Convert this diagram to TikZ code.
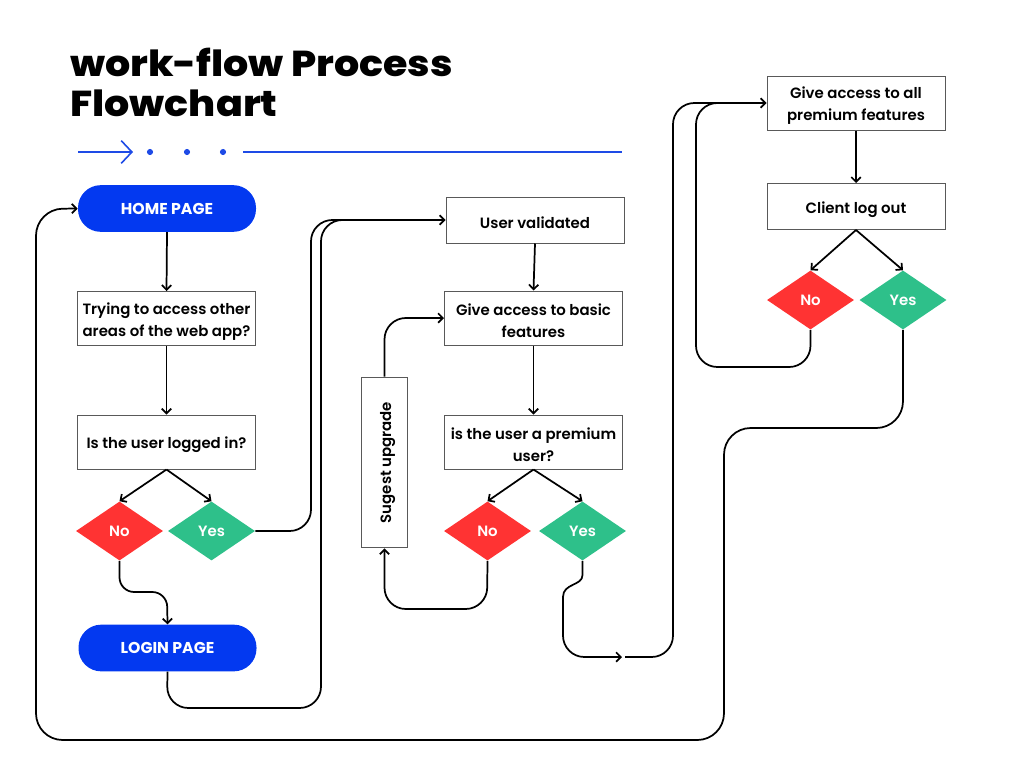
\documentclass[tikz,border=0pt]{standalone}
\usepackage{fontspec}
\setmainfont{Poppins}
\newfontfamily\semib{Poppins SemiBold}
\newfontfamily\titlef{Poppins ExtraBold}[FakeStretch=1.1]
\usetikzlibrary{arrows.meta,shapes.geometric}
\definecolor{cblue}{RGB}{3,57,240}
\definecolor{dblue}{RGB}{30,75,230}
\definecolor{cred}{RGB}{255,51,51}
\definecolor{cgreen}{RGB}{46,192,138}
\newcommand{\topst}{\rule{0pt}{13pt}}
\begin{document}
\begin{tikzpicture}[x=0.75pt,y=-0.75pt,
  box/.style={draw=black!65, line width=0.75pt, fill=white, minimum width=133.5pt, minimum height=40.5pt, inner sep=2pt, align=center, font=\semib\fontsize{11.2}{16.5}\selectfont},
  sbox/.style={box, minimum height=34.5pt},
  pill/.style={fill=cblue, rounded corners=17pt, minimum width=133.5pt, minimum height=35pt, text=white, font=\bfseries\fontsize{11.8}{13}\selectfont},
  dia/.style={diamond, minimum width=65.25pt, minimum height=44.25pt, inner sep=0pt, text=white, font=\semib\fontsize{11.2}{12}\selectfont},
  nod/.style={dia, fill=cred},
  yesd/.style={dia, fill=cgreen},
  line/.style={line width=1.3pt, black},
  conn/.style={line, -{Straight Barb[length=3.5pt,width=7pt,line width=1.3pt]}},
  rc/.style={rounded corners=16pt}
]
\useasboundingbox (0,0) rectangle (1024,768);
% title
\node[anchor=base west, inner sep=0pt, font=\titlef\fontsize{27}{30}\selectfont] (t1) at (70,76) {work-flow Process};
\node[anchor=base west, inner sep=0pt, font=\titlef\fontsize{27}{30}\selectfont] (t2) at (70,116) {Flowchart};
% decoration
\draw[dblue, line width=1.2pt, -{Straight Barb[length=8pt,width=17pt,line width=1.2pt]}] (78,152) -- (133,152);
\fill[dblue] (150,152) circle (2.3pt) (187,152) circle (2.3pt) (223,152) circle (2.3pt);
\draw[dblue, line width=1.2pt] (243,152) -- (622,152);

% column 1
\node[pill] (home) at (167,208.5) {HOME PAGE};
\node[box] (try) at (166.5,318.5) {\topst Trying to access other\\areas of the web app?};
\node[box] (ul) at (166.5,442) {\topst Is the user logged in?};
\node[nod] (no1) at (119.5,531) {No};
\node[yesd] (yes1) at (211.5,531) {Yes};
\node[pill] (login) at (167.5,648) {LOGIN PAGE};

% column 2
\node[sbox] (uv) at (535,220) {\topst User validated};
\node[box] (gb) at (533.5,318) {\topst Give access to basic\\features};
\node[box] (pu) at (533.5,442) {\topst is the user a premium\\user?};
\node[nod] (no2) at (487.5,531) {No};
\node[yesd] (yes2) at (582.5,531) {Yes};
\node[box, rotate=90, minimum width=128pt, minimum height=35pt] (sug) at (384.5,462.5) {\topst Sugest upgrade};

% column 3
\node[box] (ga) at (856,103) {\topst Give access to all\\premium features};
\node[sbox] (cl) at (856,206.5) {\topst Client log out};
\node[nod] (no3) at (810.5,300) {No};
\node[yesd] (yes3) at (903,300) {Yes};

\coordinate (mid) at (622,657);
\coordinate (mid2) at (625,657);
\coordinate (j1) at (350,220);
\coordinate (j2) at (722,103);

% straight arrows
\draw[conn] (home.south) -- (try.north);
\draw[conn] (try.south) -- (ul.north);
\draw[conn] (ul.south) -- (no1.north);
\draw[conn] (ul.south) -- (yes1.north);
\draw[conn] (uv.south) -- (gb.north);
\draw[conn] (gb.south) -- (pu.north);
\draw[conn] (pu.south) -- (no2.north);
\draw[conn] (pu.south) -- (yes2.north);
\draw[conn] (ga.south) -- (cl.north);
\draw[conn] (cl.south) -- (no3.north);
\draw[conn] (cl.south) -- (yes3.north);

% routed connectors
\draw[conn, rounded corners=11pt] (no1.south) -- (119.5,592) -- (167,592) -- (login.north);
\draw[conn, rc] (yes1.east) -- (311,531) -- (311,220) -- (uv.west);
\draw[line, rc] (login.south) -- (167,708) -- (321,708) -- (321,220) -- (j1);
\draw[conn, rc] (no2.south) -- (487,609) -- (384.5,609) -- (sug.west);
\draw[conn, rc] (sug.east) -- (384.5,318) -- (gb.west);
\draw[line] (yes2.south) -- (582.5,575) .. controls (582.5,586) and (563,583) .. (563,597);
\draw[conn, rc] (563,596) -- (563,657) -- (mid);
\draw[conn, rc] (mid2) -- (673,657) -- (673,103) -- (ga.west);
\draw[line, rc] (no3.south) -- (810.5,367) -- (696,367) -- (696,103) -- (j2);
\draw[conn, rounded corners=20pt] (yes3.south) -- (903,428) -- (724,428) -- (724,740) -- (36,740) -- (36,209) -- (home.west);
\end{tikzpicture}
\end{document}
